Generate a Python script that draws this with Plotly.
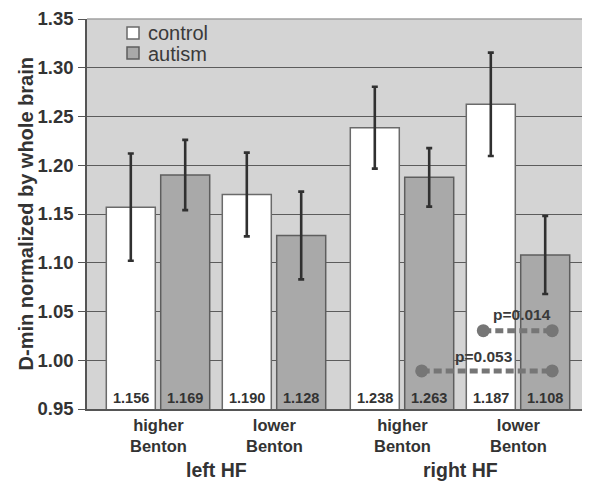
import plotly.graph_objects as go

# ---- data ----
hf_sides = ["left HF", "right HF"]
benton_groups = ["higher Benton", "lower Benton"]
series_names = ["control", "autism"]

# bar heights in order: (left higher, left lower, right higher, right lower)
control_vals = [1.157, 1.170, 1.2385, 1.2625]
autism_vals = [1.190, 1.128, 1.1876, 1.108]
control_err = [0.055, 0.043, 0.042, 0.053]
autism_err = [0.036, 0.045, 0.030, 0.040]

# printed numbers at the base of the bars (as printed in the figure)
control_labels = ["1.156", "1.190", "1.238", "1.187"]
autism_labels = ["1.169", "1.128", "1.263", "1.108"]

# p-value comparisons: (from bar, to bar, level, text)
p_tests = [
    (("control", 3), ("autism", 3), 1.0303, "p=0.014"),
    (("autism", 2), ("autism", 3), 0.989, "p=0.053"),
]

# ---- layout geometry (x axis measured in pixel-like units) ----
# the page body has an 8px margin, so the figure is 8px smaller than the window
W, H = 582, 473
L, R, T, B = 79, 1, 11, 72
X0, X1 = 87, 589
PH = 390  # plot height in px

pair_centers = []
for i in range(4):
    side = i // 2
    pair_centers.append(158 + 116 * i + 12 * side)
off = 27.2
bar_w = 49
ctrl_x = [c - off for c in pair_centers]
aut_x = [c + off for c in pair_centers]
xpos = {"control": ctrl_x, "autism": aut_x}

TXT = "#333333"
FONT = "Liberation Sans, Arial, sans-serif"
CTRL_FILL, CTRL_LINE = "white", "#6a6a6a"
AUT_FILL, AUT_LINE = "#a9a9a9", "#5e5e5e"

fig = go.Figure()
fig.add_trace(go.Bar(
    x=ctrl_x, y=control_vals, width=bar_w, name=series_names[0], showlegend=False,
    marker=dict(color=CTRL_FILL, line=dict(color=CTRL_LINE, width=1.5)),
    error_y=dict(type="data", array=control_err, color="#303030", thickness=2.6, width=3),
))
fig.add_trace(go.Bar(
    x=aut_x, y=autism_vals, width=bar_w, name=series_names[1], showlegend=False,
    marker=dict(color=AUT_FILL, line=dict(color=AUT_LINE, width=1.5)),
    error_y=dict(type="data", array=autism_err, color="#303030", thickness=2.6, width=3),
))

# p-value dashed connectors
for (a, b, lvl, txt) in p_tests:
    xa = xpos[a[0]][a[1]] - 7.5
    xb = xpos[b[0]][b[1]] + 7
    fig.add_trace(go.Scatter(
        x=[xa, xb], y=[lvl, lvl], mode="lines+markers", showlegend=False,
        line=dict(color="#767676", width=5, dash="8px,4px"),
        marker=dict(color="#767676", size=13),
        hoverinfo="skip",
    ))
    if txt == "p=0.014":
        tx, ys = (xa + xb) / 2 + 4.5, 16
    else:
        tx, ys = xa + 62.5, 14.3
    fig.add_annotation(x=tx, y=lvl, yanchor="middle", yshift=ys, text=txt, showarrow=False,
                       font=dict(family=FONT, size=15.5, color="#3a3a3a", weight="bold"))

# numbers at base of bars
for xs, labs in ((ctrl_x, control_labels), (aut_x, autism_labels)):
    for x, t in zip(xs, labs):
        fig.add_annotation(x=x, y=0.95, yanchor="middle", yshift=11.5, text=t,
                           showarrow=False,
                           font=dict(family=FONT, size=14.5, color=TXT, weight="bold"))

# category labels (two lines)
for i, c in enumerate(pair_centers):
    label = benton_groups[i % 2].replace(" ", "<br>")
    fig.add_annotation(x=c, y=0, yref="paper", yanchor="middle", yshift=-26, text=label,
                       showarrow=False,
                       font=dict(family=FONT, size=16.5, color=TXT, weight="bold"))
for s in range(2):
    cx = (pair_centers[2 * s] + pair_centers[2 * s + 1]) / 2
    fig.add_annotation(x=cx, y=0, yref="paper", yanchor="middle", yshift=-60.7,
                       text=hf_sides[s], showarrow=False,
                       font=dict(family=FONT, size=19.5, color=TXT, weight="bold"))

# y axis title
fig.add_annotation(x=0, xref="paper", xanchor="center", xshift=-60.6, y=0.5, yref="paper",
                   yanchor="middle",
                   text="D-min normalized by whole brain", textangle=-90, showarrow=False,
                   font=dict(family=FONT, size=20, color=TXT, weight="bold"))

# legend (drawn in the plot, top-left)
def py(win_y):
    return (409 - win_y) / PH

for k, (name, fill, line) in enumerate(((series_names[0], CTRL_FILL, CTRL_LINE),
                                        (series_names[1], AUT_FILL, AUT_LINE))):
    top = 27 + 20 * k
    fig.add_shape(type="rect", xref="x", yref="paper", x0=127, x1=139,
                  y0=py(top + 12), y1=py(top), fillcolor=fill,
                  line=dict(color=line, width=1.5))
    fig.add_annotation(x=146, xref="x", xanchor="left", y=py(top + 6.5), yref="paper",
                       yanchor="middle", text=name, showarrow=False,
                       font=dict(family=FONT, size=20, color="#3a3a3a"))

# top / right border lines
fig.add_shape(type="line", xref="paper", yref="paper", x0=0, x1=1, y0=1, y1=1,
              line=dict(color="#a0a0a0", width=1.5))
fig.add_shape(type="line", xref="paper", yref="paper", x0=1, x1=1, y0=0, y1=1,
              line=dict(color="#a0a0a0", width=1.5))

fig.update_layout(
    width=W, height=H,
    margin=dict(l=L, r=R, t=T, b=B, autoexpand=False),
    paper_bgcolor="white", plot_bgcolor="#d4d4d4",
    barmode="overlay",
    showlegend=False,
    xaxis=dict(range=[X0, X1], showticklabels=False, showgrid=False, zeroline=False,
               showline=True, linecolor="#555555", linewidth=1.5, ticks=""),
    yaxis=dict(range=[0.95, 1.35], tickvals=[0.95, 1.0, 1.05, 1.1, 1.15, 1.2, 1.25, 1.3, 1.35],
               ticktext=["0.95", "1.00", "1.05", "1.10", "1.15", "1.20", "1.25", "1.30", "1.35"],
               showgrid=True, gridcolor="#5c5c5c", gridwidth=1.3, zeroline=False,
               showline=True, linecolor="#555555", linewidth=1.5,
               ticks="outside", ticklen=7, tickcolor="#555555", tickwidth=1.3,
               ticklabelstandoff=1,
               tickfont=dict(family=FONT, size=18.5, color=TXT, weight="bold")),
)

fig.write_html("out.html")
